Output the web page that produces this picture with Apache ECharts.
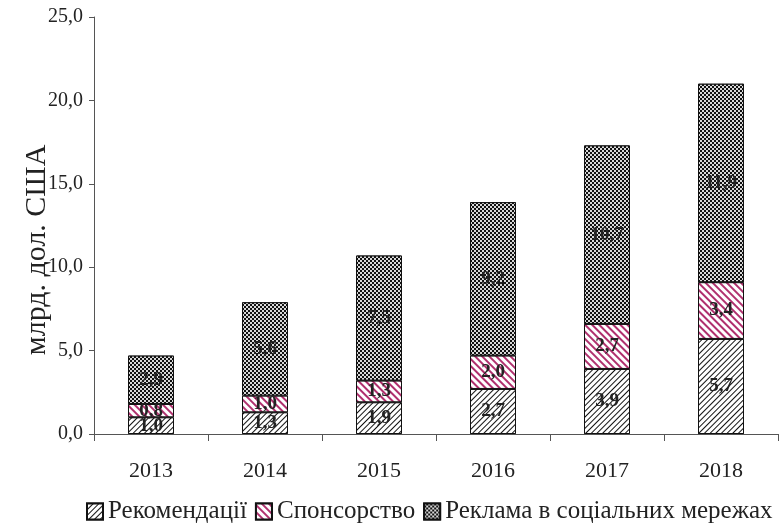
<!DOCTYPE html>
<html><head><meta charset="utf-8">
<script src="https://cdn.jsdelivr.net/npm/echarts@6/dist/echarts.min.js"></script>
<style>html,body{margin:0;padding:0;background:#fff}#c{width:779px;height:524px}</style>
</head><body><div id="c"></div>
<script>
const years = ['2013','2014','2015','2016','2017','2018'];
const seriesNames = ['Рекомендації','Спонсорство','Реклама в соціальних мережах'];
const recommendations = [1.0, 1.3, 1.9, 2.7, 3.9, 5.7];
const sponsorship = [0.8, 1.0, 1.3, 2.0, 2.7, 3.4];
const socialAds = [2.9, 5.6, 7.5, 9.2, 10.7, 11.9];
const yTicks = [0, 5, 10, 15, 20, 25];
const yTitle = 'млрд. дол. США';

const FONT = '"Liberation Serif", "DejaVu Serif", serif';
const fmt = v => v.toFixed(1).replace('.', ',');

const decals = [
  {symbol:'rect', symbolSize:1, color:'#111', backgroundColor:'#fff', dashArrayX:[1,0], dashArrayY:[1,3], rotation:-Math.PI/4},
  {symbol:'rect', symbolSize:1, color:'#b0306e', backgroundColor:'#fff', dashArrayX:[1,0], dashArrayY:[2,3], rotation:Math.PI/4},
  {symbol:'rect', symbolSize:1, color:'#111', backgroundColor:'#d8d8d8', dashArrayX:[[2,2],[0,2,2,0]], dashArrayY:[2,0], rotation:0}
];
const dataSets = [recommendations, sponsorship, socialAds];

const chart = echarts.init(document.getElementById('c'));
chart.setOption({
  backgroundColor:'#fff',
  animation:false,
  aria:{enabled:true, decal:{show:true}},
  grid:{left:94, right:1, top:17, bottom:90},
  legend:{
    top:499, left:86, width:693, padding:0, itemWidth:16, itemHeight:16, itemGap:8, icon:'rect',
    textStyle:{fontFamily:FONT, fontSize:25, color:'#222'},
    data:seriesNames
  },
  graphic:[{
    type:'text', x:37, y:250, rotation:Math.PI/2,
    style:{text:yTitle, fontFamily:FONT, fontSize:30, fill:'#222', align:'center', verticalAlign:'middle'}
  }],
  xAxis:{
    type:'category', data:years,
    axisLine:{lineStyle:{color:'#555', width:1}},
    axisTick:{show:true, length:7, lineStyle:{color:'#555'}},
    axisLabel:{fontFamily:FONT, fontSize:22, color:'#222', margin:26}
  },
  yAxis:{
    type:'value', min:yTicks[0], max:yTicks[yTicks.length-1], interval:yTicks[1]-yTicks[0],
    axisLine:{show:true, lineStyle:{color:'#555'}},
    axisTick:{show:true, length:5, inside:false, lineStyle:{color:'#555'}},
    splitLine:{show:false},
    axisLabel:{fontFamily:FONT, fontSize:20, color:'#222', margin:11, formatter:v=>fmt(v)}
  },
  series: seriesNames.map((n,i)=>({
    name:n, type:'bar', stack:'total', barWidth:46,
    data:dataSets[i],
    itemStyle:{color:'#fff', borderColor:'#111', borderWidth:1, decal:decals[i]},
    label:{show:true, position:'inside', fontFamily:FONT, fontSize:19, fontWeight:'bold', color:'#222',
      formatter:p=>fmt(p.value)}
  }))
});
</script></body></html>
